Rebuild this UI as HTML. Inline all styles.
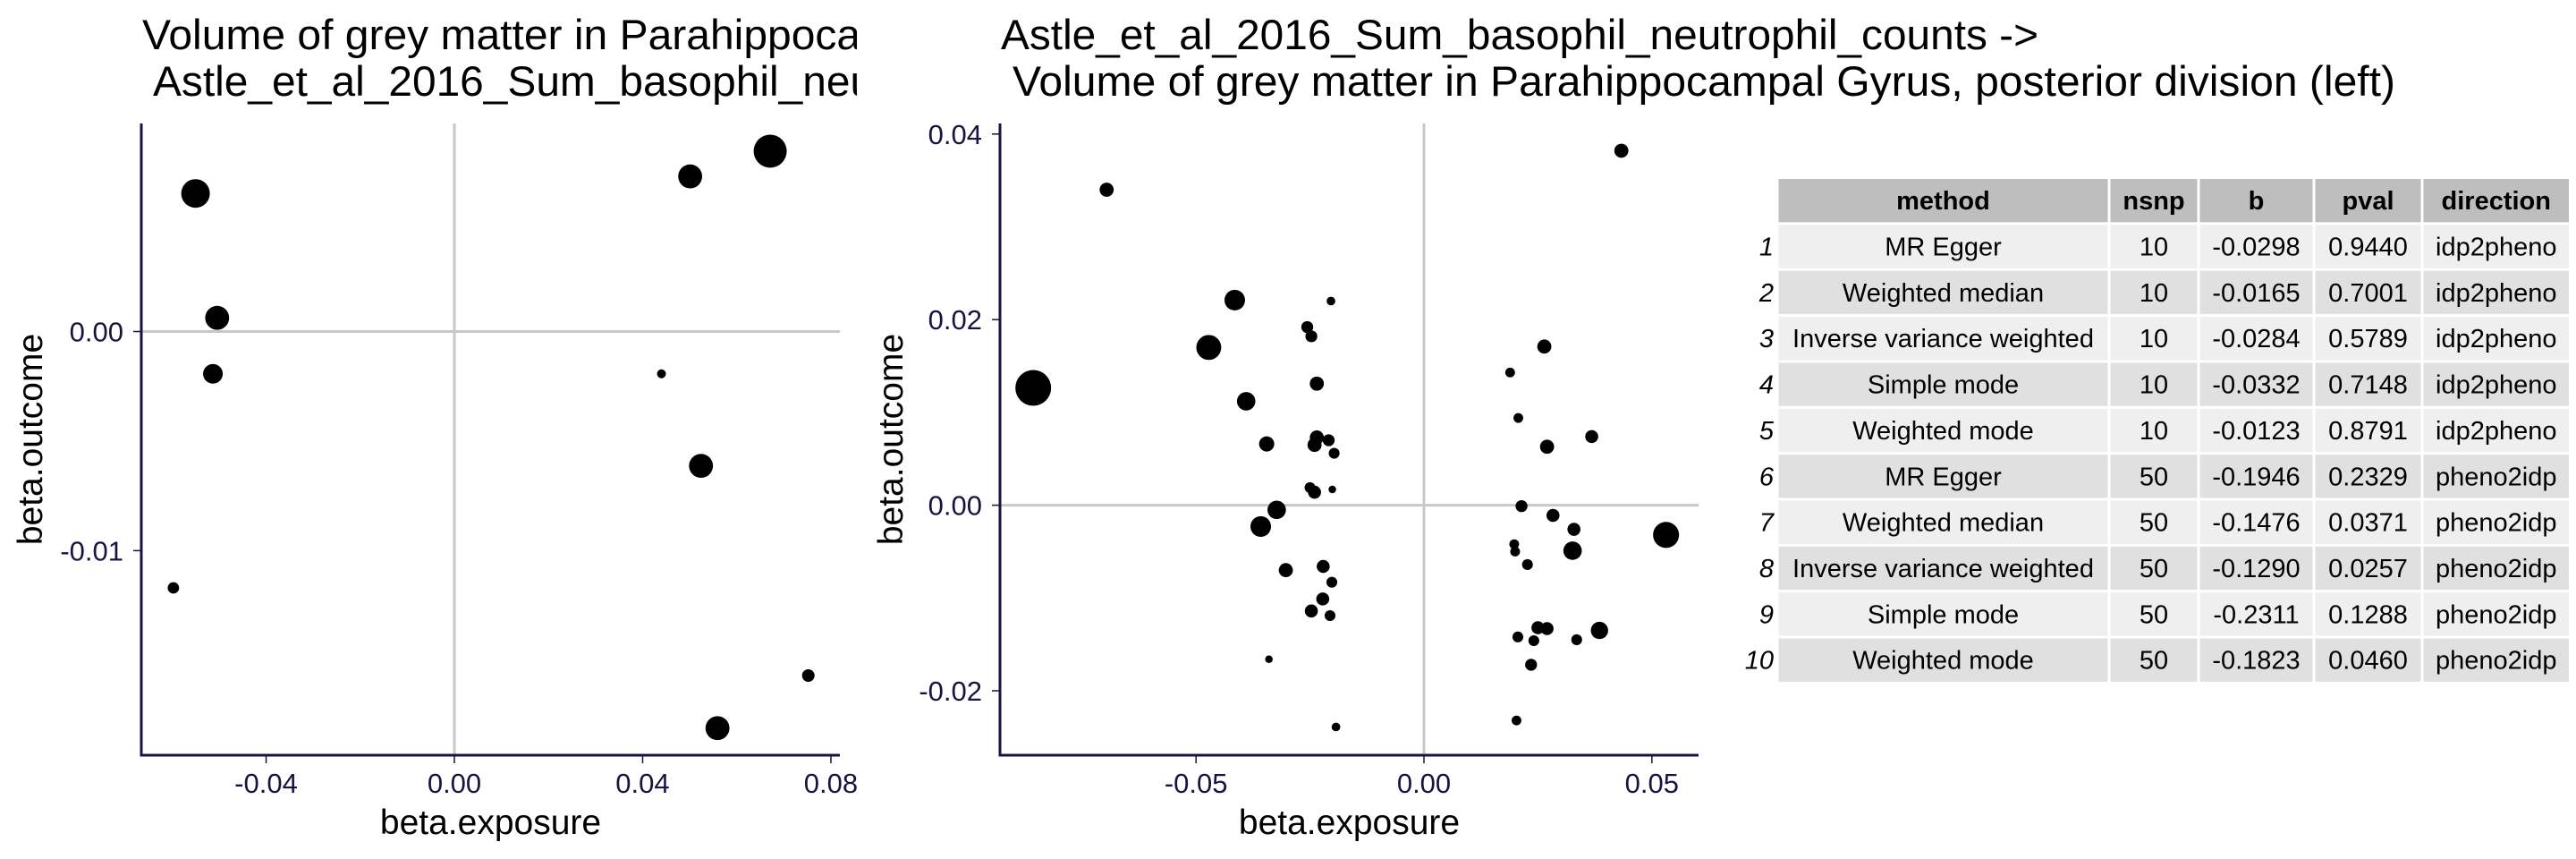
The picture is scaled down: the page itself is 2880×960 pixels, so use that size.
<!DOCTYPE html>
<html><head><meta charset="utf-8"><style>
html,body{margin:0;padding:0;background:#fff;}
svg{display:block;font-family:"Liberation Sans",Arial,sans-serif;}
</style></head><body>
<svg id="fig" width="2880" height="960" viewBox="0 0 2880 960" xmlns="http://www.w3.org/2000/svg">
<defs><clipPath id="clip1"><rect x="0" y="0" width="958" height="960"/></clipPath></defs>
<g id="p1"></g>
<g id="p2"></g>
<g id="tbl"></g>
</svg>
<script>
// Panel 1 data
const p1X = [-0.055,-0.0504,-0.0513,-0.0597,0.0501,0.0671,0.0440,0.0524,0.0752,0.0559];
const p1Y = [0.0063,0.000625,-0.00193,-0.0117,0.00708,0.00823,-0.00193,-0.00613,-0.0157,-0.0181];
const p1Size = [16,13.4,11,6.4,13.4,18.5,5,13.4,7,13.4];
const p1XTicks = [-0.04,0.00,0.04,0.08];
const p1XTickLabels = ["-0.04","0.00","0.04","0.08"];
const p1YTicks = [0.00,-0.01];
const p1YTickLabels = ["0.00","-0.01"];
// Panel 2 data
const p2X = [-0.0696,-0.0857,-0.0415,-0.0472,-0.0390,-0.0345,-0.0204,-0.0256,-0.0247,-0.0235,-0.0235,-0.0240,-0.0209,-0.0197,-0.0250,-0.0240,-0.0201,-0.0323,-0.0358,-0.0303,-0.0221,-0.0202,-0.0222,-0.0247,-0.0206,-0.0340,-0.0193,
 0.0433,0.0264,0.0189,0.0207,0.0368,0.0270,0.0214,0.0283,0.0329,0.0531,0.0326,0.0198,0.0200,0.0227,0.0250,0.0270,0.0385,0.0206,0.0241,0.0335,0.0235,0.0203];
const p2Y = [0.0340,0.01264,0.0221,0.0170,0.0112,0.0066,0.0220,0.0192,0.0182,0.0131,0.0073,0.0065,0.0070,0.0056,0.0019,0.0014,0.0017,-0.0005,-0.0023,-0.0070,-0.0066,-0.0083,-0.0101,-0.0114,-0.0119,-0.0166,-0.0239,
 0.0382,0.0171,0.0143,0.0094,0.0074,0.0063,-0.0001,-0.0011,-0.0026,-0.0032,-0.0049,-0.0042,-0.0050,-0.0064,-0.0132,-0.0133,-0.0135,-0.0142,-0.0146,-0.0145,-0.0172,-0.0232];
const p2Size = [13,33,19,23,17,14,8,11,11,13,13,13,11,10,10,12,7,17,19,13,12,10,12,12,10,7,8,
 13,13,9,9,12,13,11,12,12,24,17,9,9,10,12,12,16,10,10,10,11,9];
const p2XTicks = [-0.05,0.00,0.05];
const p2XTickLabels = ["-0.05","0.00","0.05"];
const p2YTicks = [0.04,0.02,0.00,-0.02];
const p2YTickLabels = ["0.04","0.02","0.00","-0.02"];
// Table data
const tblHeader = ["method","nsnp","b","pval","direction"];
const tblMethod = ["MR Egger","Weighted median","Inverse variance weighted","Simple mode","Weighted mode","MR Egger","Weighted median","Inverse variance weighted","Simple mode","Weighted mode"];
const tblNsnp = ["10","10","10","10","10","50","50","50","50","50"];
const tblB = ["-0.0298","-0.0165","-0.0284","-0.0332","-0.0123","-0.1946","-0.1476","-0.1290","-0.2311","-0.1823"];
const tblPval = ["0.9440","0.7001","0.5789","0.7148","0.8791","0.2329","0.0371","0.0257","0.1288","0.0460"];
const tblDir = ["idp2pheno","idp2pheno","idp2pheno","idp2pheno","idp2pheno","pheno2idp","pheno2idp","pheno2idp","pheno2idp","pheno2idp"];

const NS="http://www.w3.org/2000/svg";
const AX="#1a1240";
function mk(tag,attrs,parent){const e=document.createElementNS(NS,tag);for(const k in attrs)e.setAttribute(k,attrs[k]);parent.appendChild(e);return e;}

function panel(g,cfg){
  const xs=v=>cfg.x0px+(v-cfg.x0v)*cfg.xk;
  const ys=v=>cfg.y0px-(v-cfg.y0v)*cfg.yk;
  const L=cfg.left,R=cfg.right,T=cfg.top,B=cfg.bottom;
  const zh=mk('line',{x1:L,x2:R,y1:ys(0),y2:ys(0),stroke:'#c8c8c8','stroke-width':3},g);
  
  
  const zv=mk('line',{x1:xs(0),x2:xs(0),y1:T,y2:B,stroke:'#c8c8c8','stroke-width':3},g);
  
  
  for(let i=0;i<cfg.px.length;i++){
    const c=mk('circle',{cx:xs(cfg.px[i]),cy:ys(cfg.py[i]),r:cfg.ps[i]/cfg.rdiv,fill:'#000'},g);
    
    
  }
  const ya=mk('line',{x1:L,x2:L,y1:T,y2:B+1.5,stroke:AX,'stroke-width':3},g);
  
  
  const xa=mk('line',{x1:L-1.5,x2:R,y1:B,y2:B,stroke:AX,'stroke-width':3},g);
  
  
  cfg.xt.forEach((v,i)=>{
    const x=xs(v);
    mk('line',{x1:x,x2:x,y1:B,y2:B+9,stroke:AX,'stroke-width':1.5},g);
    const t=mk('text',{x:x,y:886,'text-anchor':'middle','font-size':31,fill:AX},g);
    t.textContent=cfg.xtl[i];
    
    
  });
  cfg.yt.forEach((v,i)=>{
    const y=ys(v);
    mk('line',{x1:L-9,x2:L,y1:y,y2:y,stroke:AX,'stroke-width':1.5},g);
    const t=mk('text',{x:L-20,y:y+11,'text-anchor':'end','font-size':31,fill:AX},g);
    t.textContent=cfg.ytl[i];
    
    
  });
  const xt=mk('text',{x:(L+R)/2,y:932,'text-anchor':'middle','font-size':39,fill:'#000'},g);
  xt.textContent='beta.exposure';
  
  
  const yt=mk('text',{x:0,y:0,'text-anchor':'middle','font-size':39,fill:'#000',transform:`translate(${cfg.ytx},${(T+B)/2}) rotate(-90)`},g);
  yt.textContent='beta.outcome';
  
  
  cfg.titles.forEach((tt,i)=>{
    const t=mk('text',{x:tt.x,y:tt.y,'font-size':47,fill:'#000',textLength:tt.w,lengthAdjust:'spacingAndGlyphs'},g);
    t.textContent=tt.s;
    
    
  });
}

const g1=document.getElementById('p1');
g1.setAttribute('clip-path','url(#clip1)');
panel(g1,{x0px:508,x0v:0,xk:5262,y0px:370.5,y0v:0,yk:24490,left:158,right:939,top:138,bottom:844,
  px:p1X,py:p1Y,ps:p1Size,rdiv:1,xt:p1XTicks,xtl:p1XTickLabels,yt:p1YTicks,ytl:p1YTickLabels,ytx:47,
  titles:[{x:159,y:55,w:1602,s:'Volume of grey matter in Parahippocampal Gyrus, posterior division (left) ->'},
          {x:171,y:107,w:1104,s:'Astle_et_al_2016_Sum_basophil_neutrophil_counts'}]});
panel(document.getElementById('p2'),{x0px:1592,x0v:0,xk:5097,y0px:564.6,y0v:0,yk:10370,left:1118,right:1899,top:138,bottom:844,
  px:p2X,py:p2Y,ps:p2Size,rdiv:1.65,xt:p2XTicks,xtl:p2XTickLabels,yt:p2YTicks,ytl:p2YTickLabels,ytx:1009,
  titles:[{x:1119,y:55,w:1160,s:'Astle_et_al_2016_Sum_basophil_neutrophil_counts ->'},
          {x:1132,y:107,w:1546,s:'Volume of grey matter in Parahippocampal Gyrus, posterior division (left)'}]});

// Table
const tg=document.getElementById('tbl');
const colX=[1987,2358,2458,2587,2708,2873.5];
const top0=198.5, rh=51.35;
const cols=[tblMethod,tblNsnp,tblB,tblPval,tblDir];
for(let r=0;r<11;r++){
  const y=top0+r*rh;
  const bg=r===0?'#bebebe':(r%2===1?'#efefef':'#e0e0e0');
  for(let c=0;c<5;c++){
    const rect=mk('rect',{x:colX[c]+1.5,y:y+1.5,width:colX[c+1]-colX[c]-3,height:rh-3,fill:bg},tg);
    
    
    const txt=r===0?tblHeader[c]:cols[c][r-1];
    const t=mk('text',{x:(colX[c]+colX[c+1])/2,y:y+rh/2+10,'text-anchor':'middle','font-size':29,fill:'#000','font-weight':r===0?'bold':'normal'},tg);
    t.textContent=txt;
    
    
  }
  if(r>0){
    const n=mk('text',{x:1983,y:y+rh/2+10,'text-anchor':'end','font-size':29,'font-style':'italic',fill:'#000'},tg);
    n.textContent=String(r);
    
    
  }
}
</script>
</body></html>
